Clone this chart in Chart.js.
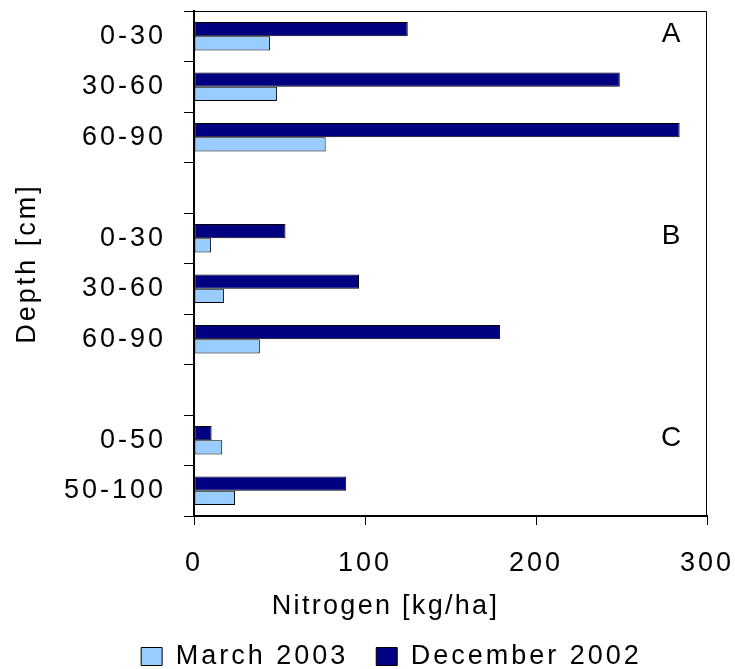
<!DOCTYPE html>
<html>
<head>
<meta charset="utf-8">
<script src="https://cdn.jsdelivr.net/npm/chart.js@4/dist/chart.umd.min.js"></script>
<style>
  html, body { margin: 0; padding: 0; background: #fff; }
  canvas { display: block; }
</style>
</head>
<body>
<canvas id="chart" width="735" height="669"></canvas>
<script>
// Soil depth classes, three profiles (A, B, C) separated by an empty row
const depthLabels = ['0-30', '30-60', '60-90', '', '0-30', '30-60', '60-90', '', '0-50', '50-100'];
// Mineral nitrogen, kg/ha
const december2002 = [125, 249, 284, null, 53.5, 96.5, 179, null, 10.3, 89];
const march2003 = [44.5, 48.5, 77, null, 10, 17.5, 38.5, null, 16.5, 24];
// Profile letters and the row each one sits on
const profileLetters = ['A', 'B', 'C'];
const profileRows = [0, 4, 8];
// Nitrogen axis ticks
const nitrogenTicks = [0, 100, 200, 300];

const FONT = '"Liberation Sans", Arial, Helvetica, sans-serif';
const TEXT_SPACING = '3px';
const LEGEND_SHIFT = 38;

Chart.defaults.color = '#000';
Chart.defaults.font.family = FONT;

const framePlugin = {
  id: 'framePlugin',
  beforeUpdate(chart) { chart.ctx.letterSpacing = TEXT_SPACING; },
  afterLayout(chart) {
    // legend sits a little right of the canvas centre
    const lg = chart.legend;
    if (lg) { lg.left += LEGEND_SHIFT; lg.right += LEGEND_SHIFT; }
  },
  beforeDraw(chart) { chart.ctx.letterSpacing = TEXT_SPACING; },
  afterDraw(chart) {
    const { ctx, chartArea: a, scales: { x, y } } = chart;
    ctx.save();
    // top and right edges of the plot frame
    ctx.strokeStyle = '#000';
    ctx.lineWidth = 1;
    ctx.beginPath();
    ctx.moveTo(a.left, a.top + 0.5);
    ctx.lineTo(a.right - 0.5, a.top + 0.5);
    ctx.lineTo(a.right - 0.5, a.bottom);
    ctx.stroke();

    // profile letters
    ctx.letterSpacing = '0px';
    ctx.fillStyle = '#000';
    ctx.font = '28px ' + FONT;
    ctx.textAlign = 'center';
    ctx.textBaseline = 'alphabetic';
    profileRows.forEach((row, i) => {
      ctx.fillText(profileLetters[i], x.getPixelForValue(279), y.getPixelForValue(row) + 6);
    });

    // nitrogen axis title
    ctx.letterSpacing = '2.3px';
    ctx.font = '27px ' + FONT;
    ctx.textBaseline = 'middle';
    ctx.fillText('Nitrogen [kg/ha]', x.getPixelForValue(112), a.bottom + 91);
    ctx.restore();
  }
};

new Chart(document.getElementById('chart'), {
  type: 'bar',
  data: {
    labels: depthLabels,
    datasets: [
      {
        label: 'December 2002',
        data: december2002,
        backgroundColor: '#000080',
        borderColor: '#000000',
        borderWidth: 1,
        borderSkipped: false
      },
      {
        label: 'March 2003',
        data: march2003,
        backgroundColor: '#99CCFF',
        borderColor: '#000000',
        borderWidth: 1,
        borderSkipped: false
      }
    ]
  },
  options: {
    indexAxis: 'y',
    responsive: false,
    animation: false,
    devicePixelRatio: 1,
    categoryPercentage: 0.56,
    barPercentage: 1,
    layout: { padding: { top: 11, right: 28, left: 0, bottom: -11 } },
    scales: {
      x: {
        type: 'linear',
        min: nitrogenTicks[0],
        max: nitrogenTicks[nitrogenTicks.length - 1],
        ticks: { stepSize: 100, font: { size: 27 }, padding: 22, color: '#000' },
        grid: { drawOnChartArea: false, drawTicks: true, tickLength: 9, tickColor: '#000', tickWidth: 1 },
        border: { display: true, color: '#000', width: 2 },
        afterFit(scale) { scale.height = 99; scale.paddingLeft = 0; scale.paddingRight = 0; }
      },
      y: {
        type: 'category',
        offset: true,
        ticks: { font: { size: 27 }, padding: 18, color: '#000', autoSkip: false },
        grid: { offset: true, drawOnChartArea: false, drawTicks: true, tickLength: 10, tickColor: '#000', tickWidth: 1 },
        border: { display: true, color: '#000', width: 2 },
        title: { display: true, text: 'Depth [cm]', font: { size: 27 }, color: '#000', padding: { top: 11, bottom: 0 } },
        afterFit(scale) { scale.width = 194; scale.paddingTop = 0; scale.paddingBottom = 0; }
      }
    },
    plugins: {
      legend: {
        position: 'bottom',
        align: 'center',
        fullSize: true,
        reverse: true,
        labels: { boxWidth: 21, boxHeight: 18, padding: 28, font: { size: 27 }, color: '#000' }
      },
      tooltip: { enabled: false }
    }
  },
  plugins: [framePlugin]
});
</script>
</body>
</html>
